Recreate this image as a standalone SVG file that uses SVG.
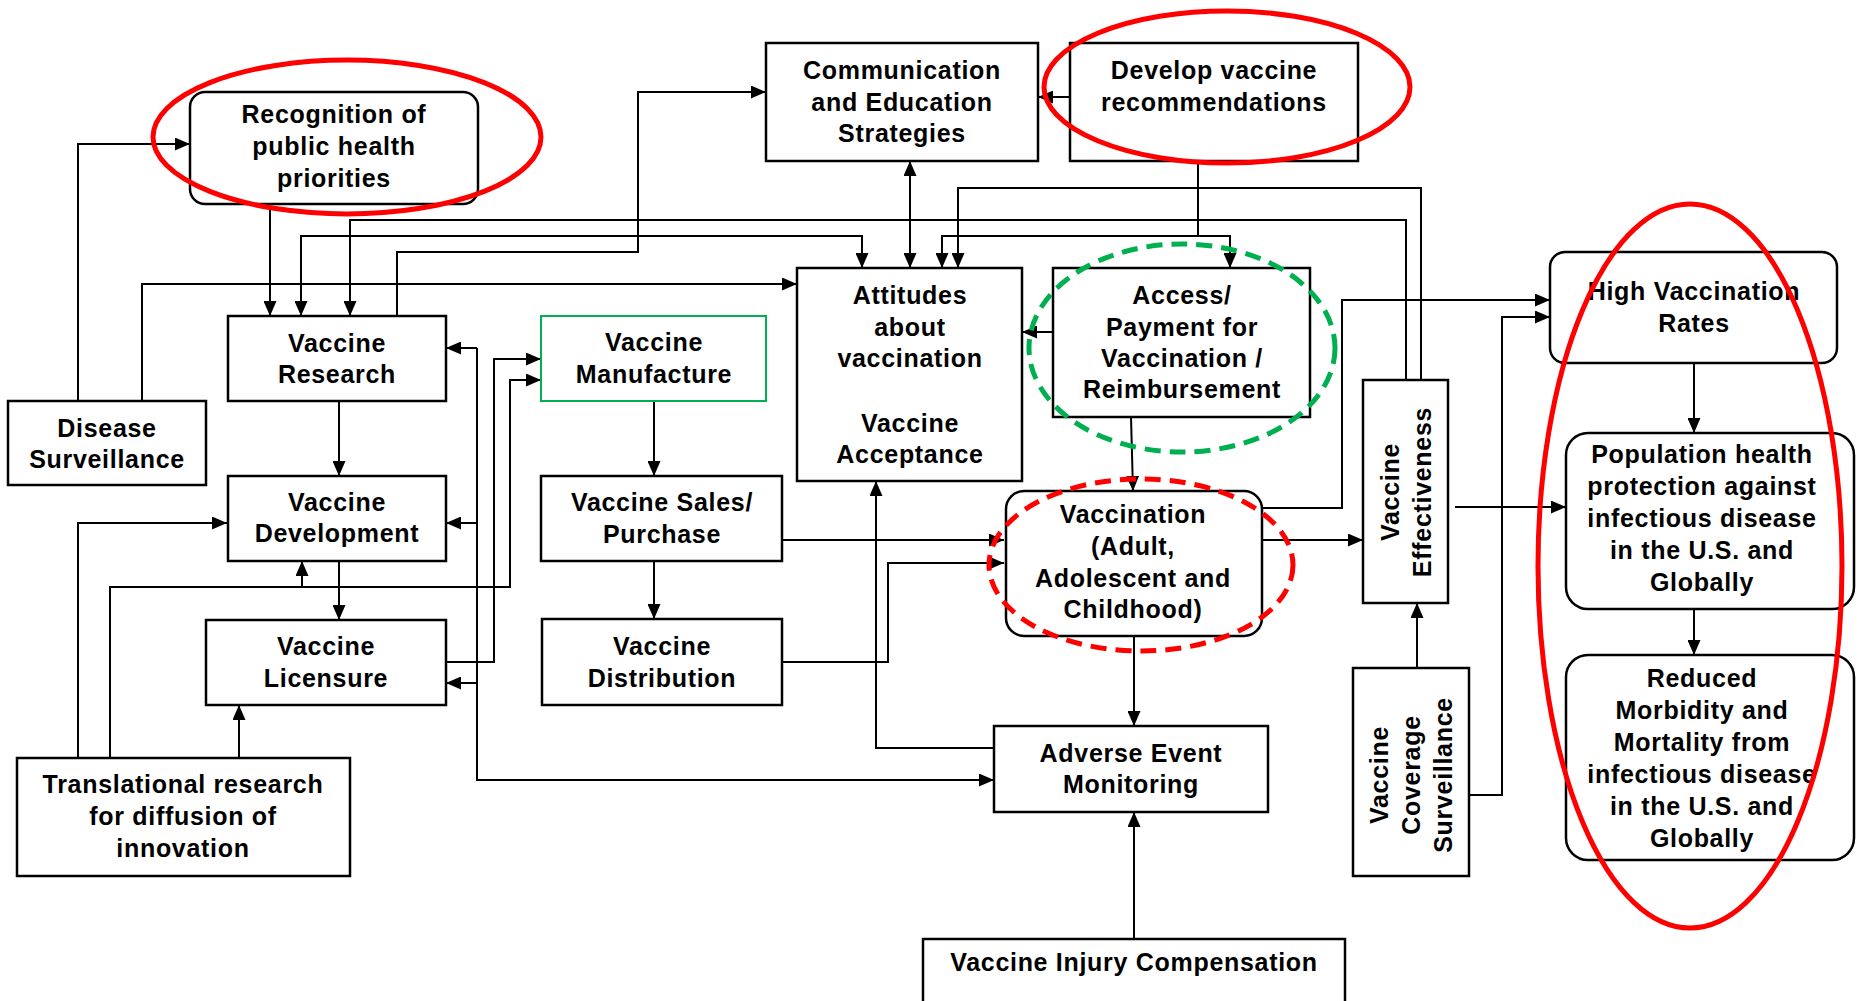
<svg xmlns="http://www.w3.org/2000/svg" width="1860" height="1001" viewBox="0 0 1860 1001">
  <defs>
    <marker id="arr" viewBox="0 0 15 13" refX="15" refY="6.5" markerWidth="15" markerHeight="13" markerUnits="userSpaceOnUse" orient="auto">
      <path d="M0,0 L15,6.5 L0,13 z" fill="#000"/>
    </marker>
    <marker id="arrs" viewBox="0 0 15 13" refX="15" refY="6.5" markerWidth="15" markerHeight="13" markerUnits="userSpaceOnUse" orient="auto-start-reverse">
      <path d="M0,0 L15,6.5 L0,13 z" fill="#000"/>
    </marker>
    <style>
      .box { fill: #fff; stroke: #000; stroke-width: 2.5; }
      .gbox { fill: #fff; stroke: #00b050; stroke-width: 2; }
      .lbl { font-family: "Liberation Sans", Arial, sans-serif; font-weight: bold; font-size: 25px; letter-spacing: 0.7px; text-anchor: middle; fill: #000; }
      .wire { fill: none; stroke: #000; stroke-width: 2; }
      .wire.a { marker-end: url(#arr); }
      .wire.b { marker-end: url(#arr); marker-start: url(#arrs); }
      .ring { fill: none; stroke: #f00; stroke-width: 5; }
      .ring.dash { stroke-dasharray: 16 9; }
      .ring.green { stroke: #00b050; }
    </style>
  </defs>
  <rect width="1860" height="1001" fill="#fff"/>

  <!-- connectors -->
  <g id="connectors">
    <path class="wire a" d="M78,401 V144 H190"/>
    <path class="wire a" d="M142,401 V284 H797"/>
    <path class="wire a" d="M270,204 V316"/>
    <path class="wire b" d="M301,316 V236 H862 V268"/>
    <path class="wire a" d="M1406,380 V220 H350 V316"/>
    <path class="wire a" d="M397,316 V252 H638 V92 H766"/>
    <path class="wire b" d="M910,161 V268"/>
    <path class="wire a" d="M1421,380 V188 H958 V268"/>
    <path class="wire" d="M1198,161 V236"/>
    <path class="wire b" d="M942,268 V236 H1230 V268"/>
    <path class="wire a" d="M1070,97 H1038"/>
    <path class="wire a" d="M1053,332 H1022"/>
    <path class="wire a" d="M1131,417 L1133,491"/>
    <path class="wire a" d="M339,401 V476"/>
    <path class="wire a" d="M339,561 V620"/>
    <path class="wire a" d="M477,348 V780 H994"/>
    <path class="wire a" d="M477,348 H446"/>
    <path class="wire a" d="M477,523 H446"/>
    <path class="wire a" d="M477,683 H446"/>
    <path class="wire a" d="M446,662 H494 V359 H541"/>
    <path class="wire a" d="M110,758 V587 H510 V380 H541"/>
    <path class="wire a" d="M302,587 V561"/>
    <path class="wire a" d="M78,758 V523 H227"/>
    <path class="wire a" d="M239,758 V705"/>
    <path class="wire a" d="M654,401 V476"/>
    <path class="wire a" d="M654,561 V619"/>
    <path class="wire a" d="M782,540 H1004"/>
    <path class="wire a" d="M782,662 H888 V563 H1004"/>
    <path class="wire a" d="M994,748 H876 V481"/>
    <path class="wire a" d="M1134,636 V726"/>
    <path class="wire a" d="M1134,939 V812"/>
    <path class="wire a" d="M1262,540 H1363"/>
    <path class="wire a" d="M1262,508 H1342 V300 H1550"/>
    <path class="wire a" d="M1469,795 H1502 V317 H1550"/>
    <path class="wire a" d="M1417,668 V603"/>
    <path class="wire a" d="M1455,507 H1566"/>
    <path class="wire a" d="M1694,363 V433"/>
    <path class="wire a" d="M1694,609 V655"/>
  </g>

  <!-- nodes -->
  <g id="recognition">
    <rect class="box" x="190" y="92" width="288" height="112" rx="15"/>
    <text class="lbl"><tspan x="334" y="123">Recognition of</tspan><tspan x="334" y="155">public health</tspan><tspan x="334" y="187">priorities</tspan></text>
  </g>
  <g id="communication">
    <rect class="box" x="766" y="43" width="272" height="118"/>
    <text class="lbl"><tspan x="902" y="79">Communication</tspan><tspan x="902" y="111">and Education</tspan><tspan x="902" y="142">Strategies</tspan></text>
  </g>
  <g id="develop-recommendations">
    <rect class="box" x="1070" y="43" width="288" height="118"/>
    <text class="lbl"><tspan x="1214" y="79">Develop vaccine</tspan><tspan x="1214" y="111">recommendations</tspan></text>
  </g>
  <g id="vaccine-research">
    <rect class="box" x="228" y="316" width="218" height="85"/>
    <text class="lbl"><tspan x="337" y="352">Vaccine</tspan><tspan x="337" y="383">Research</tspan></text>
  </g>
  <g id="disease-surveillance">
    <rect class="box" x="8" y="401" width="198" height="84"/>
    <text class="lbl"><tspan x="107" y="437">Disease</tspan><tspan x="107" y="468">Surveillance</tspan></text>
  </g>
  <g id="vaccine-manufacture">
    <rect class="gbox" x="541" y="316" width="225" height="85"/>
    <text class="lbl"><tspan x="654" y="351">Vaccine</tspan><tspan x="654" y="383">Manufacture</tspan></text>
  </g>
  <g id="attitudes">
    <rect class="box" x="797" y="268" width="225" height="213"/>
    <text class="lbl"><tspan x="910" y="304">Attitudes</tspan><tspan x="910" y="336">about</tspan><tspan x="910" y="367">vaccination</tspan><tspan x="910" y="432">Vaccine</tspan><tspan x="910" y="463">Acceptance</tspan></text>
  </g>
  <g id="access-payment">
    <rect class="box" x="1053" y="268" width="257" height="149"/>
    <text class="lbl"><tspan x="1182" y="304">Access/</tspan><tspan x="1182" y="336">Payment for</tspan><tspan x="1182" y="367">Vaccination /</tspan><tspan x="1182" y="398">Reimbursement</tspan></text>
  </g>
  <g id="vaccine-development">
    <rect class="box" x="228" y="476" width="218" height="85"/>
    <text class="lbl"><tspan x="337" y="511">Vaccine</tspan><tspan x="337" y="542">Development</tspan></text>
  </g>
  <g id="vaccine-sales">
    <rect class="box" x="541" y="476" width="241" height="85"/>
    <text class="lbl"><tspan x="662" y="511">Vaccine Sales/</tspan><tspan x="662" y="543">Purchase</tspan></text>
  </g>
  <g id="vaccine-licensure">
    <rect class="box" x="206" y="620" width="240" height="85"/>
    <text class="lbl"><tspan x="326" y="655">Vaccine</tspan><tspan x="326" y="687">Licensure</tspan></text>
  </g>
  <g id="vaccine-distribution">
    <rect class="box" x="542" y="619" width="240" height="86"/>
    <text class="lbl"><tspan x="662" y="655">Vaccine</tspan><tspan x="662" y="687">Distribution</tspan></text>
  </g>
  <g id="translational-research">
    <rect class="box" x="17" y="758" width="333" height="118"/>
    <text class="lbl"><tspan x="183" y="793">Translational research</tspan><tspan x="183" y="825">for diffusion of</tspan><tspan x="183" y="857">innovation</tspan></text>
  </g>
  <g id="vaccination">
    <rect class="box" x="1006" y="491" width="256" height="145" rx="18"/>
    <text class="lbl"><tspan x="1133" y="523">Vaccination</tspan><tspan x="1133" y="555">(Adult,</tspan><tspan x="1133" y="587">Adolescent and</tspan><tspan x="1133" y="618">Childhood)</tspan></text>
  </g>
  <g id="adverse-event">
    <rect class="box" x="994" y="726" width="274" height="86"/>
    <text class="lbl"><tspan x="1131" y="762">Adverse Event</tspan><tspan x="1131" y="793">Monitoring</tspan></text>
  </g>
  <g id="injury-compensation">
    <rect class="box" x="923" y="939" width="422" height="90"/>
    <text class="lbl" x="1134" y="971">Vaccine Injury Compensation</text>
  </g>
  <g id="vaccine-effectiveness">
    <rect class="box" x="1363" y="380" width="85" height="223"/>
    <text class="lbl" transform="translate(1406,492) rotate(-90)"><tspan x="0" y="-7">Vaccine</tspan><tspan x="0" y="25">Effectiveness</tspan></text>
  </g>
  <g id="coverage-surveillance">
    <rect class="box" x="1353" y="668" width="116" height="208"/>
    <text class="lbl" transform="translate(1411,775) rotate(-90)"><tspan x="0" y="-23">Vaccine</tspan><tspan x="0" y="9">Coverage</tspan><tspan x="0" y="41">Surveillance</tspan></text>
  </g>
  <g id="high-vaccination-rates">
    <rect class="box" x="1550" y="252" width="287" height="111" rx="15"/>
    <text class="lbl"><tspan x="1694" y="300">High Vaccination</tspan><tspan x="1694" y="332">Rates</tspan></text>
  </g>
  <g id="population-protection">
    <rect class="box" x="1566" y="433" width="288" height="176" rx="22"/>
    <text class="lbl"><tspan x="1702" y="463">Population health</tspan><tspan x="1702" y="495">protection against</tspan><tspan x="1702" y="527">infectious disease</tspan><tspan x="1702" y="559">in the U.S. and</tspan><tspan x="1702" y="591">Globally</tspan></text>
  </g>
  <g id="reduced-morbidity">
    <rect class="box" x="1566" y="655" width="288" height="205" rx="22"/>
    <text class="lbl"><tspan x="1702" y="687">Reduced</tspan><tspan x="1702" y="719">Morbidity and</tspan><tspan x="1702" y="751">Mortality from</tspan><tspan x="1702" y="783">infectious disease</tspan><tspan x="1702" y="815">in the U.S. and</tspan><tspan x="1702" y="847">Globally</tspan></text>
  </g>

  <!-- highlight rings -->
  <g id="highlights">
    <ellipse class="ring" cx="347" cy="137" rx="194" ry="77"/>
    <ellipse class="ring" cx="1227" cy="87" rx="183" ry="76"/>
    <ellipse class="ring dash green" cx="1182" cy="348" rx="153" ry="104"/>
    <ellipse class="ring dash" cx="1141" cy="565" rx="152" ry="86"/>
    <ellipse class="ring" cx="1690" cy="566" rx="152" ry="362"/>
  </g>
</svg>
